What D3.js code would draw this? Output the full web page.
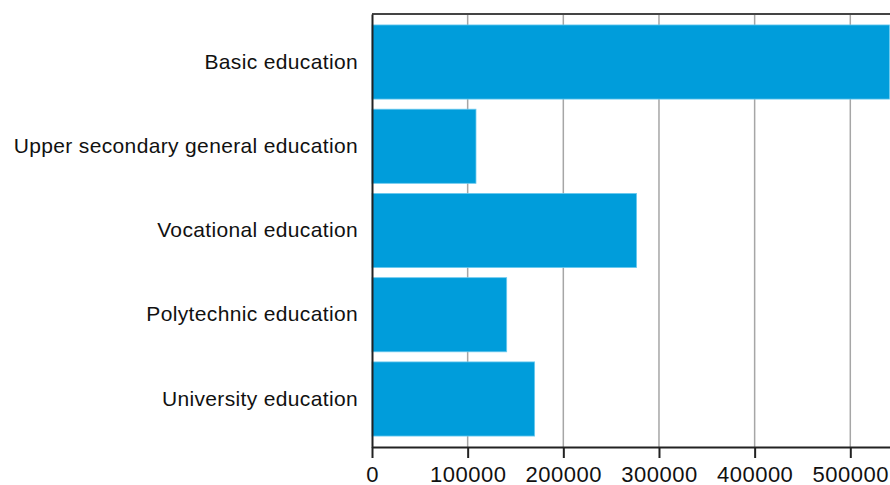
<html>
<head>
<script src="https://d3js.org/d3.v7.min.js"></script>
<style>
  body { margin: 0; background: #fff; }
  text { font-family: "Liberation Sans", Arial, sans-serif; fill: #111; }
</style>
</head>
<body>
<svg width=890 height=485></svg>
<script>
var categories = ["Basic education", "Upper secondary general education", "Vocational education", "Polytechnic education", "University education"];
var values = [541000, 108700, 276600, 140800, 170000];
var tickValues = [0, 100000, 200000, 300000, 400000, 500000];
var xMax = 541500;

var plotLeft = 372, plotRight = 890, plotTop = 14, plotBottom = 447;

var svg = d3.select("svg");

var x = d3.scaleLinear().domain([0, xMax]).range([plotLeft, plotRight]);
var y = d3.scaleBand().domain(categories).range([plotTop, plotBottom])
  .paddingInner(0.12).paddingOuter(0.13);

// grid
svg.append("g")
  .selectAll("line")
  .data(tickValues.slice(1))
  .enter()
  .append("line")
  .attr("x1", function(d) { return x(d); })
  .attr("x2", function(d) { return x(d); })
  .attr("y1", plotTop)
  .attr("y2", plotBottom)
  .attr("stroke", "#a6a6a6")
  .attr("stroke-width", 1.5);

// bars
svg.append("g")
  .selectAll("rect")
  .data(categories)
  .enter()
  .append("rect")
  .attr("x", x(0))
  .attr("y", function(d) { return y(d); })
  .attr("width", function(d, i) { return x(values[i]) - x(0); })
  .attr("height", y.bandwidth())
  .attr("fill", "#009ddb")
  .attr("stroke", "#6ccaef")
  .attr("stroke-width", 0.8);

// frame top
svg.append("line")
  .attr("x1", plotLeft).attr("x2", plotRight)
  .attr("y1", plotTop).attr("y2", plotTop)
  .attr("stroke", "#444").attr("stroke-width", 2);

// x axis
var xAxis = svg.append("g")
  .attr("transform", "translate(0," + plotBottom + ")")
  .call(d3.axisBottom(x).tickValues(tickValues).tickFormat(d3.format("d")).tickSize(11).tickSizeOuter(0).tickPadding(8));
xAxis.select(".domain").attr("stroke", "#222").attr("stroke-width", 2);
xAxis.selectAll(".tick line").attr("stroke", "#222").attr("stroke-width", 2);
xAxis.selectAll("text").style("font-size", "22px").style("letter-spacing", "0.5px").attr("font-family", null);

// y axis
var yAxis = svg.append("g")
  .attr("transform", "translate(" + plotLeft + ",0)")
  .call(d3.axisLeft(y).tickSize(0).tickPadding(14));
yAxis.select(".domain").attr("stroke", "#222").attr("stroke-width", 2);
yAxis.selectAll("text").style("font-size", "21px").style("letter-spacing", "0.35px").attr("font-family", null);
</script>
</body>
</html>
